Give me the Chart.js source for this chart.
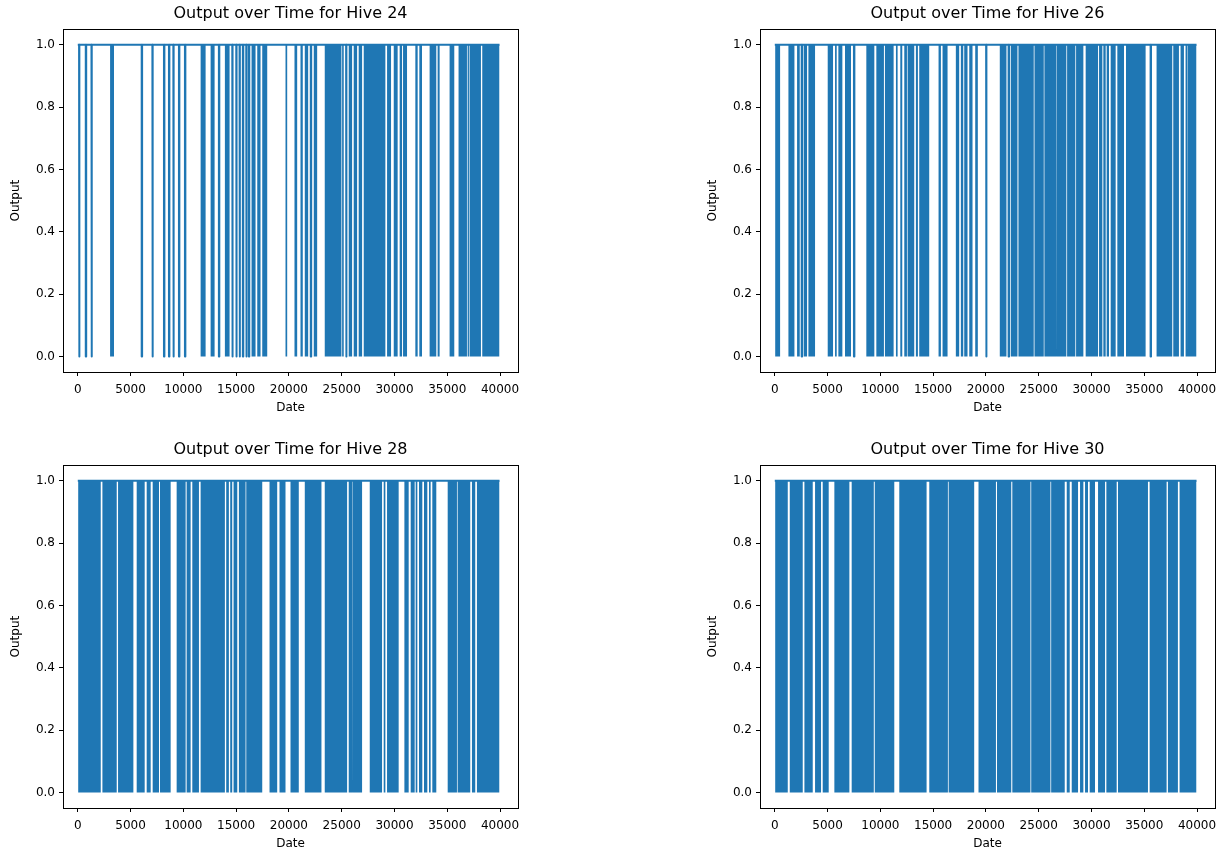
<!DOCTYPE html>
<html>
<head>
<meta charset="utf-8">
<script src="https://cdn.jsdelivr.net/npm/chart.js@4.4.1/dist/chart.umd.min.js"></script>
<style>
  body { margin: 0; background: #fff; }
  canvas { position: absolute; }
</style>
</head>
<body>
<canvas id="hive24" width="530" height="420" style="left:0px;top:0px"></canvas>
<canvas id="hive26" width="530" height="420" style="left:697px;top:0px"></canvas>
<canvas id="hive28" width="530" height="420" style="left:0px;top:436px"></canvas>
<canvas id="hive30" width="530" height="420" style="left:697px;top:436px"></canvas>
<script>
// tick labels
var xTicks = [0, 5000, 10000, 15000, 20000, 25000, 30000, 35000, 40000];
var yTicks = [0.0, 0.2, 0.4, 0.6, 0.8, 1.0];

// first and last date of each series
var dateSpan = [0, 39950];

// single-sample drops to 0 (dates)
var hive24Dips = [123, 757, 1296, 6054, 7067, 8164, 8637, 9053, 9583, 10151, 13367, 14635, 15013, 15325, 15637, 15959, 16205, 22070, 25419];
var hive26Dips = [2550, 7500, 20020, 22150, 35600];
var hive28Dips = [];
var hive30Dips = [];

// dense switching periods, drawn solid [from, to]
var hive24Bands = [[3056, 3434], [11636, 12109], [12582, 12960], [13935, 14379], [16460, 16839], [17000, 17312], [17473, 17946],
  [19677, 19837], [20528, 20783], [21096, 21313], [21503, 21825], [22354, 22676], [23394, 24974], [25040, 25192], [25665, 25986],
  [26138, 26460], [26610, 26933], [27087, 29137], [29297, 29675], [29930, 30300], [30490, 30717], [30811, 31189], [31975, 32196],
  [32353, 32607], [33328, 33961], [34087, 34276], [35220, 35664], [36069, 36865], [36928, 37054], [37112, 38190], [38313, 39950]];
var hive26Bands = [[31, 504], [1293, 1861], [2112, 2365], [2743, 3059], [3185, 3815], [5014, 5519], [5708, 5866], [6023, 6402],
  [6654, 7222], [8672, 9430], [9620, 10340], [10435, 11257], [11478, 11636], [11889, 12077], [12267, 12519], [12582, 13210],
  [13367, 13557], [13683, 14629], [15514, 15737], [15893, 16366], [17151, 17469], [17626, 17853], [17946, 18257], [18421, 18731],
  [18987, 19234], [21314, 21947], [22354, 22988], [23082, 24530], [24600, 25480], [25540, 26640], [26710, 27620], [27690, 28470],
  [28540, 29231], [29450, 30622], [30717, 31029], [31123, 31345], [31440, 31662], [31818, 32291], [32448, 33083], [33272, 35128],
  [36165, 37651], [37746, 38284], [38438, 38758], [38913, 39071], [39137, 39950]];
var hive28Bands = [[31, 2176], [2333, 3689], [3815, 5266], [5581, 6338], [6527, 6906], [7095, 7694], [7789, 8798], [9366, 10217],
  [10312, 10690], [10848, 11478], [11636, 13935], [14060, 14313], [14440, 14630], [14757, 15108], [15263, 15894], [15959, 17473],
  [18163, 18889], [19109, 19677], [20150, 20935], [21503, 23082], [23394, 25513], [25665, 25986], [26043, 26930], [27656, 28822],
  [28979, 29137], [29295, 30396], [30938, 31345], [31535, 31913], [32007, 32165], [32322, 32637], [32795, 33110], [33268, 33426],
  [33583, 33961], [35040, 35917], [35980, 37178], [37338, 37651], [37810, 39950]];
var hive30Bands = [[31, 1230], [1419, 2649], [2807, 3595], [3815, 4383], [4541, 5108], [5644, 7066], [7284, 9380], [9470, 11320],
  [11794, 14380], [14635, 16400], [16470, 18890], [19298, 20950], [21050, 22400], [22500, 24220], [24290, 26110], [26180, 27466],
  [27655, 27939], [28128, 28727], [28916, 29231], [29389, 29673], [29831, 30335], [30622, 31284], [31409, 32387], [32513, 35350],
  [35508, 37116], [37241, 38187], [38345, 39950]];

var BLUE = '#1f77b4';
var FONT = 'DejaVu Sans';
var DIP_W = 40;

// draws the box round the plot area, like matplotlib spines
var framePlugin = {
  id: 'frame',
  afterDraw: function(chart) {
    var a = chart.chartArea, ctx = chart.ctx;
    ctx.save();
    ctx.strokeStyle = '#000';
    ctx.lineWidth = 1;
    ctx.strokeRect(Math.round(a.left) + 0.5, Math.round(a.top) + 0.5, Math.round(a.right - a.left), Math.round(a.bottom - a.top));
    ctx.restore();
  }
};

function linePoints(dips) {
  var pts = [{ x: dateSpan[0], y: 1 }];
  dips.forEach(function(d) {
    pts.push({ x: d, y: 1 }, { x: d, y: 0 }, { x: d + DIP_W, y: 0 }, { x: d + DIP_W, y: 1 });
  });
  pts.push({ x: dateSpan[1], y: 1 });
  return pts;
}

function bandPoints(bands) {
  var pts = [];
  bands.forEach(function(b) {
    pts.push({ x: b[0], y: 0 }, { x: b[0], y: 1 }, { x: b[1], y: 1 }, { x: b[1], y: 0 });
  });
  return pts;
}

function makePanel(id, hive, dips, bands) {
  new Chart(document.getElementById(id), {
    type: 'line',
    data: {
      datasets: [
        { data: bandPoints(bands), borderWidth: 0, fill: 'origin', backgroundColor: BLUE, pointRadius: 0 },
        { data: linePoints(dips), borderColor: BLUE, borderWidth: 2, borderJoinStyle: 'round', fill: false, pointRadius: 0 }
      ]
    },
    options: {
      responsive: false,
      animation: false,
      events: [],
      layout: { padding: { right: 12 } },
      plugins: {
        legend: { display: false },
        tooltip: { enabled: false },
        title: {
          display: true, fullSize: false, text: 'Output over Time for Hive ' + hive, color: '#000',
          font: { family: FONT, size: 16, weight: 'normal' }, padding: { top: 4, bottom: 6 }
        }
      },
      scales: {
        x: {
          type: 'linear', min: -1400, max: 41700,
          afterBuildTicks: function(s) { s.ticks = xTicks.map(function(v) { return { value: v }; }); },
          afterFit: function(s) { s.height = 48; },
          ticks: { color: '#000', font: { family: FONT, size: 12 }, padding: 7, maxRotation: 0,
            callback: function(v) { return String(v); } },
          grid: { drawOnChartArea: false, tickLength: 4, color: '#000' },
          border: { color: '#000' },
          title: { display: true, text: 'Date', color: '#000', font: { family: FONT, size: 12 }, padding: { top: 0, bottom: 5 } }
        },
        y: {
          min: -0.05, max: 1.05,
          afterBuildTicks: function(s) { s.ticks = yTicks.map(function(v) { return { value: v }; }); },
          afterFit: function(s) { s.width = 63; },
          ticks: { color: '#000', font: { family: FONT, size: 12 }, padding: 4,
            callback: function(v) { return v.toFixed(1); } },
          grid: { drawOnChartArea: false, tickLength: 4, color: '#000' },
          border: { color: '#000' },
          title: { display: true, text: 'Output', color: '#000', font: { family: FONT, size: 12 }, padding: { top: 9, bottom: 0 } }
        }
      }
    },
    plugins: [framePlugin]
  });
}

makePanel('hive24', 24, hive24Dips, hive24Bands);
makePanel('hive26', 26, hive26Dips, hive26Bands);
makePanel('hive28', 28, hive28Dips, hive28Bands);
makePanel('hive30', 30, hive30Dips, hive30Bands);
</script>
</body>
</html>
